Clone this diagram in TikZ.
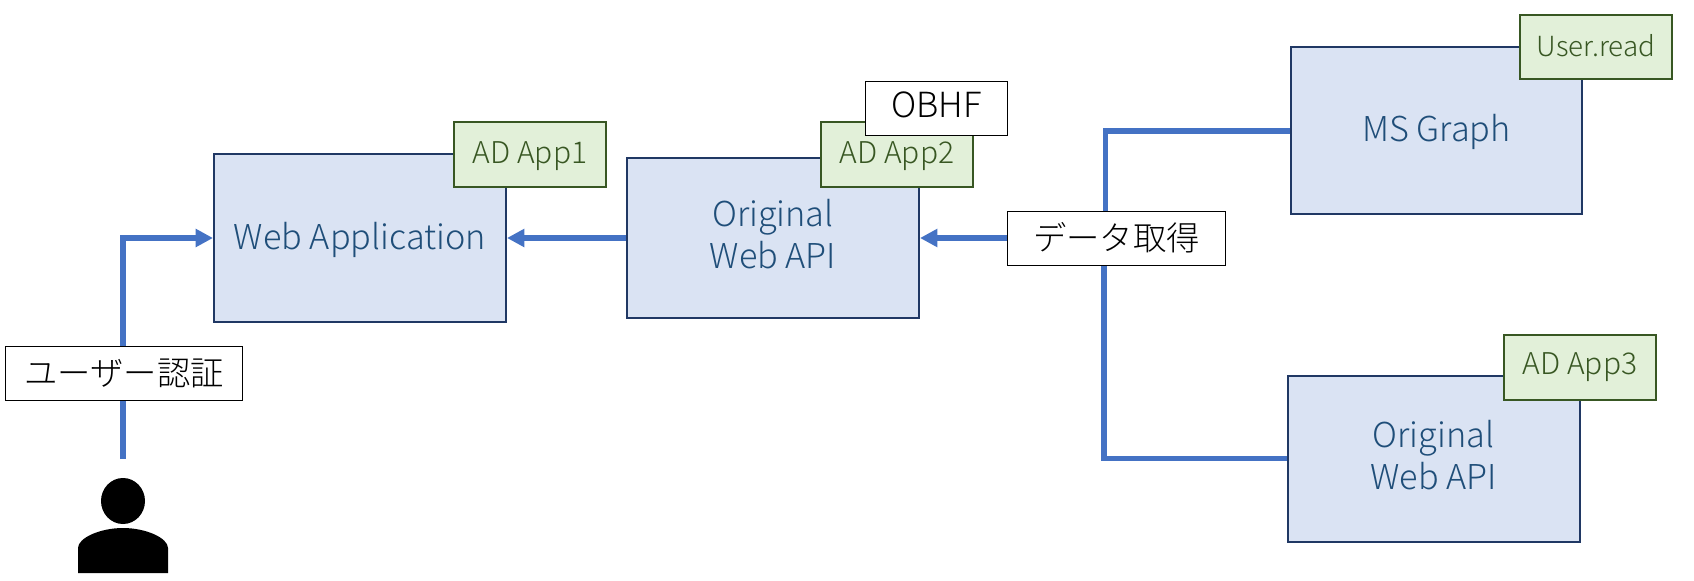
\documentclass[tikz,border=0pt]{standalone}
\usepackage{fontspec}
\setmainfont{Noto Sans CJK JP Light}
\usetikzlibrary{arrows.meta,shapes.geometric}
\definecolor{boxfill}{HTML}{DAE3F3}
\definecolor{boxline}{HTML}{203864}
\definecolor{boxtext}{HTML}{1F4E79}
\definecolor{appfill}{HTML}{E2F0D9}
\definecolor{appline}{HTML}{385723}
\definecolor{linkc}{HTML}{4472C4}
\newcommand{\placed}[2]{\raisebox{#1}[0pt][0pt]{#2}}
\newcommand{\twolines}[2]{\raisebox{-23pt}[0pt][0pt]{\begin{tabular}[b]{@{}c@{}}#1\\[1.5pt]#2\end{tabular}}}
\tikzset{
  x=0.75pt,y=-0.75pt,
  svc/.style={draw=boxline,fill=boxfill,line width=1.5pt,text=boxtext,align=center,inner sep=0pt,font=\fontsize{25.7}{30}\selectfont},
  app/.style={draw=appline,fill=appfill,line width=1.5pt,text=appline,inner sep=0pt,minimum width=114pt,minimum height=48.5pt,font=\fontsize{22.5}{26}\selectfont},
  lbl/.style={draw=black,fill=white,line width=0.7pt,inner sep=0pt,text=black,font=\fontsize{25}{30}\selectfont},
  link/.style={draw=linkc,line width=4.3pt},
  tip/.style={-{Triangle[length=13pt,width=13pt]}},
}
\begin{document}
\begin{tikzpicture}
\useasboundingbox (0,0) rectangle (1694,581);
% services
\node[svc,minimum width=219pt,minimum height=126pt] (web) at (360,238) {\placed{-8.4pt}{Web Application}};
\node[svc,minimum width=219pt,minimum height=120pt] (api) at (773,238) {\twolines{Original}{Web API}};
\node[svc,minimum width=218pt,minimum height=125.3pt] (ms) at (1436.5,130.7) {\placed{-8.4pt}{MS Graph}};
\node[svc,minimum width=219pt,minimum height=124.5pt] (api2) at (1433.5,458.5) {\twolines{Original}{Web API}};
% apps
\node[app] (app1) at (530,154.5) {\placed{-6.8pt}{AD App1}};
\node[app] (app2) at (897,154.5) {\placed{-6.8pt}{AD App2}};
\node[app,font=\fontsize{20.8}{24}\selectfont] (userread) at (1596,47) {\placed{-7pt}{User.read}};
\node[app] (app3) at (1580,367.5) {\placed{-5.4pt}{AD App3}};
% free ends
\coordinate (ustart) at (123,459);
\coordinate (jtop) at (1105.5,238);
\coordinate (jbot) at (1104,238);
% connectors
\draw[link,tip] (ustart) |- (web.west);
\draw[link,tip] (api.west) -- (web.east);
\draw[link] (jtop) |- (ms.west);
\draw[link] (jbot) |- (api2.west);
% labels
\node[lbl,minimum width=177.5pt,minimum height=40.5pt] (auth) at (124,373.5) {ユーザー認証};
\node[lbl,minimum width=163.5pt,minimum height=40.5pt] (data) at (1116.5,238) {データ取得};
\node[lbl,minimum width=107pt,minimum height=40.5pt,font=\fontsize{26}{30}\selectfont] (obhf) at (936.5,108) {\placed{-6.8pt}{OBHF}};
\draw[link,tip] (data.west) -- (api.east);
% person
\node[draw=none,fill=black,ellipse,minimum width=33pt,minimum height=34.5pt,inner sep=0pt] (head) at (123,501) {};
\fill[black] (78,573) -- (78,548) .. controls (78,538) and (100,528) .. (123,528) .. controls (146,528) and (168,538) .. (168,548) -- (168,573) -- cycle;
\end{tikzpicture}
\end{document}
